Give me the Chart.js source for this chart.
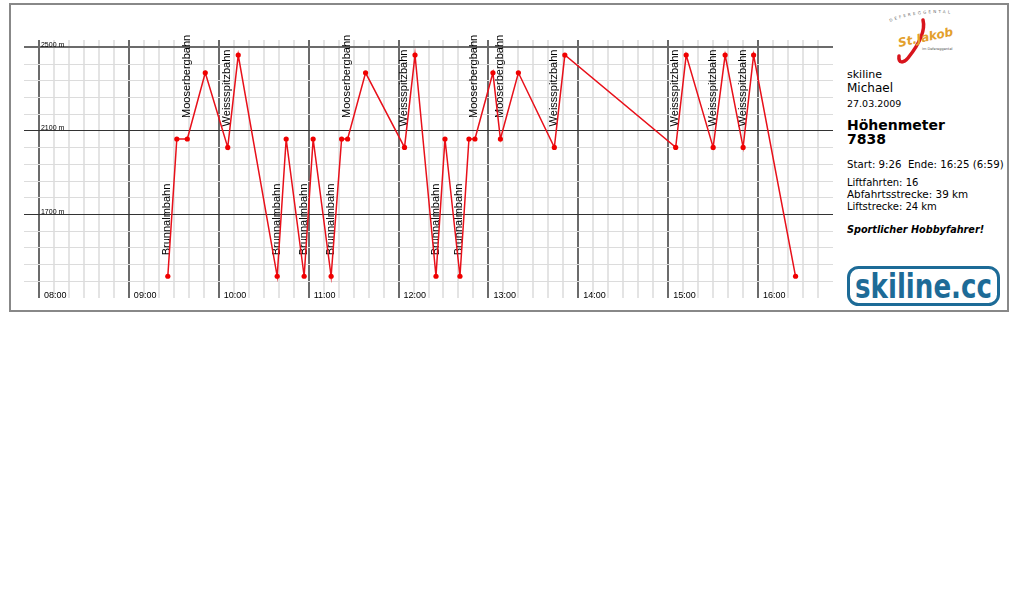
<!DOCTYPE html>
<html>
<head>
<meta charset="utf-8">
<script src="https://cdn.jsdelivr.net/npm/chart.js@4.4.0/dist/chart.umd.min.js"></script>
<style>
  body { margin: 0; background: #fff; width: 1018px; height: 600px; position: relative; overflow: hidden; font-family: "DejaVu Sans", sans-serif; }
  #rahmen { position: absolute; left: 9px; top: 3px; width: 996px; height: 305px; border: 2px solid #888; }
  #wrap { position: absolute; left: 0; top: 0; width: 840px; height: 312px; }
  .t { position: absolute; left: 847px; line-height: 1; white-space: pre; color: #000; }
</style>
</head>
<body>
<div id="rahmen"></div>
<div id="wrap"><canvas id="hoehenprofil"></canvas></div>

<!-- Logo Skigebiet -->
<svg style="position:absolute;left:880px;top:6px" width="84" height="60">
  <path id="bogen" d="M10 16 Q 40 4 74 8" fill="none" stroke="none"/>
  <text font-family="DejaVu Sans" font-size="4" fill="#666" letter-spacing="2.2"><textPath href="#bogen">DEFEREGGENTAL</textPath></text>
  <path d="M43 14 C 46 26, 36 42, 28 52 C 24 57, 18 58, 19 50" stroke="#d8141c" stroke-width="3.5" fill="none" stroke-linecap="round"/>
  <text x="19" y="41" font-family="DejaVu Sans" font-style="italic" font-weight="bold" font-size="12" fill="#e3a02c" transform="rotate(-12 19 41)">St.Jakob</text>
  <text x="42" y="44" font-family="DejaVu Sans" font-size="3.5" fill="#555">im Defereggental</text>
</svg>

<div class="t" style="top:69.4px;font-size:11px">skiline</div>
<div class="t" style="top:82.1px;font-size:12px">Michael</div>
<div class="t" style="top:99px;font-size:9.5px">27.03.2009</div>
<div class="t" style="top:117.5px;font-size:14px;font-weight:bold">Höhenmeter</div>
<div class="t" style="top:131.5px;font-size:14px;font-weight:bold">7838</div>
<div class="t" style="top:160.4px;font-size:10.2px">Start: 9:26  Ende: 16:25 (6:59)</div>
<div class="t" style="top:177.7px;font-size:10px">Liftfahrten: 16</div>
<div class="t" style="top:188.6px;font-size:10.4px">Abfahrtsstrecke: 39 km</div>
<div class="t" style="top:201.6px;font-size:10px">Liftstrecke: 24 km</div>
<div class="t" style="top:225.1px;font-size:9.7px;font-weight:bold;font-style:italic">Sportlicher Hobbyfahrer!</div>

<!-- skiline.cc Logo -->
<svg style="position:absolute;left:846px;top:265px" width="156" height="43">
  <rect x="2.5" y="2.5" width="150" height="37" rx="10" fill="none" stroke="#1d6b97" stroke-width="3"/>
  <text x="9" y="33" font-family="DejaVu Sans" font-weight="bold" font-size="34" fill="#1d6b97" textLength="137" lengthAdjust="spacingAndGlyphs">skiline.cc</text>
</svg>

<script>
// Höhenprofil eines Skitages - Zeitpunkte und Höhen der Liftfahrten
const zeiten = [
  '09:26', '09:32', '09:39', '09:51', '10:06', '10:13', '10:39', '10:45',
  '10:57', '11:03', '11:15', '11:22', '11:26', '11:38', '12:04', '12:11',
  '12:25', '12:31', '12:41', '12:47', '12:51', '13:03', '13:08', '13:20',
  '13:44', '13:51', '15:05', '15:12', '15:30', '15:38', '15:50', '15:57',
  '16:25'
];
const hoehen = [
  1404, 2061, 2061, 2378, 2021, 2463, 1404, 2061,
  1404, 2061, 1404, 2061, 2061, 2378, 2021, 2463,
  1404, 2061, 1404, 2061, 2061, 2378, 2061, 2378,
  2021, 2463, 2021, 2463, 2021, 2463, 2021, 2463,
  1404
];
// Name des Lifts am Startpunkt der Fahrt
const lifte = [
  'Brunnalmbahn', '', 'Mooserbergbahn', '', 'Weissspitzbahn', '', 'Brunnalmbahn', '',
  'Brunnalmbahn', '', 'Brunnalmbahn', '', 'Mooserbergbahn', '', 'Weissspitzbahn', '',
  'Brunnalmbahn', '', 'Brunnalmbahn', '', 'Mooserbergbahn', '', 'Mooserbergbahn', '',
  'Weissspitzbahn', '', 'Weissspitzbahn', '', 'Weissspitzbahn', '', 'Weissspitzbahn', '',
  ''
];
const stunden = ['08:00', '09:00', '10:00', '11:00', '12:00', '13:00', '14:00', '15:00', '16:00'];
const hoehenMarken = [1700, 2100, 2500];
const hoehenLinien = [1380, 1460, 1540, 1620, 1700, 1780, 1860, 1940, 2020, 2100, 2180, 2260, 2340, 2420, 2500];

function zuMinuten(z) {
  const [h, m] = z.split(':').map(Number);
  return h * 60 + m;
}

const X_MIN = zuMinuten('07:50');
const X_MAX = zuMinuten('16:50');

// Beschriftungen: Liftnamen, Stunden und Höhenangaben
const beschriftung = {
  id: 'beschriftung',
  beforeDatasetsDraw(chart) {
    const { ctx, chartArea, scales: { x, y } } = chart;
    ctx.save();
    ctx.fillStyle = '#000';

    // Liftnamen senkrecht über dem Startpunkt
    ctx.font = '11px "Liberation Sans"';
    ctx.textAlign = 'left';
    ctx.textBaseline = 'middle';
    lifte.forEach((name, i) => {
      if (!name) return;
      const px = x.getPixelForValue(zuMinuten(zeiten[i]));
      const py = y.getPixelForValue(hoehen[i]);
      ctx.save();
      ctx.translate(px - 0.5, py - 21);
      ctx.rotate(-Math.PI / 2);
      ctx.fillText(name, 0, 0);
      ctx.restore();
    });

    // Stunden unten im Diagramm
    ctx.font = '9px "Liberation Sans"';
    ctx.textBaseline = 'alphabetic';
    stunden.forEach(s => {
      ctx.fillText(s, x.getPixelForValue(zuMinuten(s)) + 5, chartArea.bottom - 0.5);
    });

    // Höhenangaben links
    ctx.font = '7px "Liberation Sans"';
    hoehenMarken.forEach(v => {
      ctx.fillText(v + ' m', x.getPixelForValue(zuMinuten('08:00')) + 2, y.getPixelForValue(v) - 0.5);
    });
    ctx.restore();
  }
};

const ctx = document.getElementById('hoehenprofil').getContext('2d');
new Chart(ctx, {
  type: 'line',
  data: {
    datasets: [{
      data: zeiten.map((z, i) => ({ x: zuMinuten(z), y: hoehen[i] })),
      borderColor: '#e8101a',
      borderWidth: 1.5,
      pointRadius: 2.6,
      pointBackgroundColor: '#f00000',
      pointBorderWidth: 0,
      tension: 0
    }]
  },
  options: {
    responsive: true,
    maintainAspectRatio: false,
    animation: false,
    layout: { padding: { left: 24, top: 40, right: 7, bottom: 14 } },
    plugins: {
      legend: { display: false },
      tooltip: { enabled: false }
    },
    scales: {
      x: {
        type: 'linear',
        min: X_MIN,
        max: X_MAX,
        border: { display: false },
        ticks: { display: false, stepSize: 10 },
        grid: {
          drawTicks: false,
          color: c => {
            const v = c.tick.value;
            if (v === X_MIN || v === X_MAX) return 'rgba(0,0,0,0)';
            return v % 60 === 0 ? '#6b6b6b' : '#e4e4e4';
          },
          lineWidth: 2
        }
      },
      y: {
        min: 1300,
        max: 2535,
        border: { display: false },
        afterBuildTicks: s => { s.ticks = hoehenLinien.map(v => ({ value: v })); },
        ticks: { display: false },
        grid: {
          drawTicks: false,
          color: c => {
            const v = c.tick.value;
            if (v === 2500) return '#6b6b6b';
            return hoehenMarken.includes(v) ? '#333' : '#dcdcdc';
          },
          lineWidth: c => (c.tick.value === 2500 ? 2 : 1)
        }
      }
    }
  },
  plugins: [beschriftung]
});
</script>
</body>
</html>
